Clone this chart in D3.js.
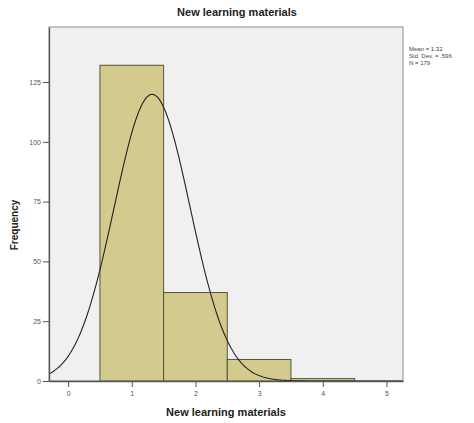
<!DOCTYPE html>
<html>
<head>
<meta charset="utf-8">
<script src="https://cdn.jsdelivr.net/npm/d3@7"></script>
<style>
  body { margin: 0; background: #fff; }
  text { font-family: Arial, "Liberation Sans", sans-serif; }
</style>
</head>
<body>
<script>
// histogram data
var binStarts = [0.5, 1.5, 2.5, 3.5];
var binCounts = [132, 37, 9, 1];
var binWidth = 1;
var xTicks = [0, 1, 2, 3, 4, 5];
var yTicks = [0, 25, 50, 75, 100, 125];
var stats = {mean: 1.32, sd: 0.596, n: 179};
var statLabels = ["Mean = 1.32", "Std. Dev. = .596", "N = 179"];

var W = 474, H = 423;
var plotL = 49, plotR = 403, plotT = 27, plotB = 381;

var svg = d3.select("body").append("svg")
    .attr("width", W)
    .attr("height", H);

var x = d3.scaleLinear().domain([-0.3, 5.26]).range([plotL, plotR]);
var y = d3.scaleLinear().domain([0, 148]).range([plotB, plotT]);

// plot background
svg.append("rect")
    .attr("x", plotL).attr("y", plotT)
    .attr("width", plotR - plotL).attr("height", plotB - plotT)
    .attr("fill", "#f0f0f0")
    .attr("stroke", "#8c8c8c")
    .attr("stroke-width", 1);

// bars
svg.selectAll(".bar")
    .data(binStarts)
    .enter().append("rect")
    .attr("class", "bar")
    .attr("x", function(d) { return x(d); })
    .attr("width", function(d) { return x(d + binWidth) - x(d); })
    .attr("y", function(d, i) { return y(binCounts[i]); })
    .attr("height", function(d, i) { return y(0) - y(binCounts[i]); })
    .attr("fill", "#d3ca8d")
    .attr("stroke", "#55553a")
    .attr("stroke-width", 1);

// fitted normal curve
var pts = d3.range(-0.3, 5.261, 0.02).map(function(v) {
    var z = (v - stats.mean) / stats.sd;
    var f = stats.n * binWidth / (stats.sd * Math.sqrt(2 * Math.PI)) * Math.exp(-0.5 * z * z);
    return [v, f];
});
svg.append("path")
    .datum(pts)
    .attr("fill", "none")
    .attr("stroke", "#222")
    .attr("stroke-width", 1.1)
    .attr("d", d3.line()
        .x(function(d) { return x(d[0]); })
        .y(function(d) { return y(d[1]); }));

// axes
var xAxis = svg.append("g")
    .attr("transform", "translate(0," + plotB + ")")
    .call(d3.axisBottom(x).tickValues(xTicks).tickSize(6).tickSizeOuter(0)
        .tickPadding(4).tickFormat(d3.format("d")));
var yAxis = svg.append("g")
    .attr("transform", "translate(" + plotL + ",0)")
    .call(d3.axisLeft(y).tickValues(yTicks).tickSize(6).tickSizeOuter(0)
        .tickPadding(2).tickFormat(d3.format("d")));

[xAxis, yAxis].forEach(function(g) {
    g.select(".domain").attr("stroke", "#555").attr("stroke-width", 1.3);
    g.selectAll(".tick line").attr("stroke", "#555");
    g.selectAll(".tick text").attr("fill", "#555").style("font-size", "7px");
});

// titles
svg.append("text")
    .attr("x", 237).attr("y", 16)
    .attr("text-anchor", "middle")
    .style("font-size", "11px").style("font-weight", "bold")
    .attr("fill", "#222")
    .text("New learning materials");

svg.append("text")
    .attr("x", (plotL + plotR) / 2).attr("y", 416)
    .attr("text-anchor", "middle")
    .style("font-size", "11px").style("font-weight", "bold")
    .attr("fill", "#222")
    .text("New learning materials");

svg.append("text")
    .attr("transform", "translate(18," + 225 + ") rotate(-90)")
    .attr("text-anchor", "middle")
    .style("font-size", "10px").style("font-weight", "bold")
    .attr("fill", "#222")
    .text("Frequency");

// stats legend
svg.selectAll(".stat")
    .data(statLabels)
    .enter().append("text")
    .attr("class", "stat")
    .attr("x", 409)
    .attr("y", function(d, i) { return 51 + i * 7; })
    .style("font-size", "6px")
    .attr("fill", "#444")
    .text(function(d) { return d; });
</script>
</body>
</html>
